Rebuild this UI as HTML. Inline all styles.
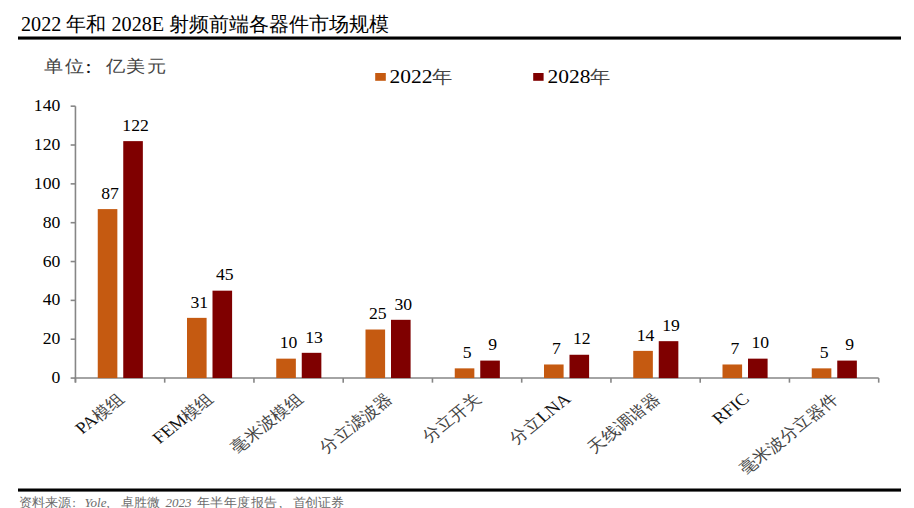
<!DOCTYPE html>
<html><head><meta charset="utf-8"><style>
html,body{margin:0;padding:0;background:#fff;}
body{width:914px;height:508px;position:relative;overflow:hidden;font-family:"Liberation Serif",serif;}
.abs{position:absolute;white-space:nowrap;}
#title{left:21px;top:11.5px;font-size:20.2px;line-height:24px;color:#000;}
.rule{position:absolute;left:18px;width:883px;height:3px;background:#000;}
.ft text{font-size:13px;fill:#6b6b6b;}
svg{position:absolute;left:0;top:0;}
.n{font-size:15.65px;fill:#000;}
.c{font-size:15.7px;fill:#444;}
.lat{font-size:16.6px;fill:#111;}
.u{font-size:16.6px;fill:#444;letter-spacing:1.45px;}
.g{font-size:19px;fill:#000;}
.uc{font-size:19px;fill:#111;}
.gy{font-size:17.5px;fill:#444;}
text{font-family:"Liberation Serif",serif;}
</style></head><body>
<div id="title" class="abs">2022 年和 2028E 射频前端各器件市场规模</div>
<svg width="914" height="508" viewBox="0 0 914 508">
<line x1="75.45" y1="106.17" x2="75.45" y2="382.57" stroke="#868686" stroke-width="1.6"/>
<line x1="74.65" y1="378.07" x2="878.70" y2="378.07" stroke="#868686" stroke-width="1.6"/>
<line x1="70.65" y1="378.07" x2="75.45" y2="378.07" stroke="#868686" stroke-width="1.6"/>
<text transform="translate(60.30,383.17) scale(1.13,1)" text-anchor="end" class="n">0</text>
<line x1="70.65" y1="339.23" x2="75.45" y2="339.23" stroke="#868686" stroke-width="1.6"/>
<text transform="translate(60.30,344.33) scale(1.13,1)" text-anchor="end" class="n">20</text>
<line x1="70.65" y1="300.38" x2="75.45" y2="300.38" stroke="#868686" stroke-width="1.6"/>
<text transform="translate(60.30,305.48) scale(1.13,1)" text-anchor="end" class="n">40</text>
<line x1="70.65" y1="261.54" x2="75.45" y2="261.54" stroke="#868686" stroke-width="1.6"/>
<text transform="translate(60.30,266.64) scale(1.13,1)" text-anchor="end" class="n">60</text>
<line x1="70.65" y1="222.70" x2="75.45" y2="222.70" stroke="#868686" stroke-width="1.6"/>
<text transform="translate(60.30,227.80) scale(1.13,1)" text-anchor="end" class="n">80</text>
<line x1="70.65" y1="183.86" x2="75.45" y2="183.86" stroke="#868686" stroke-width="1.6"/>
<text transform="translate(60.30,188.96) scale(1.13,1)" text-anchor="end" class="n">100</text>
<line x1="70.65" y1="145.01" x2="75.45" y2="145.01" stroke="#868686" stroke-width="1.6"/>
<text transform="translate(60.30,150.11) scale(1.13,1)" text-anchor="end" class="n">120</text>
<line x1="70.65" y1="106.17" x2="75.45" y2="106.17" stroke="#868686" stroke-width="1.6"/>
<text transform="translate(60.30,111.27) scale(1.13,1)" text-anchor="end" class="n">140</text>
<line x1="75.45" y1="378.07" x2="75.45" y2="382.67" stroke="#868686" stroke-width="1.6"/>
<line x1="164.70" y1="378.07" x2="164.70" y2="382.67" stroke="#868686" stroke-width="1.6"/>
<line x1="253.95" y1="378.07" x2="253.95" y2="382.67" stroke="#868686" stroke-width="1.6"/>
<line x1="343.20" y1="378.07" x2="343.20" y2="382.67" stroke="#868686" stroke-width="1.6"/>
<line x1="432.45" y1="378.07" x2="432.45" y2="382.67" stroke="#868686" stroke-width="1.6"/>
<line x1="521.70" y1="378.07" x2="521.70" y2="382.67" stroke="#868686" stroke-width="1.6"/>
<line x1="610.95" y1="378.07" x2="610.95" y2="382.67" stroke="#868686" stroke-width="1.6"/>
<line x1="700.20" y1="378.07" x2="700.20" y2="382.67" stroke="#868686" stroke-width="1.6"/>
<line x1="789.45" y1="378.07" x2="789.45" y2="382.67" stroke="#868686" stroke-width="1.6"/>
<line x1="878.70" y1="378.07" x2="878.70" y2="382.67" stroke="#868686" stroke-width="1.6"/>
<rect x="97.75" y="209.10" width="19.6" height="168.97" fill="#C55A11"/>
<text transform="translate(110.05,198.80) scale(1.13,1)" text-anchor="middle" class="n">87</text>
<rect x="123.25" y="141.13" width="19.6" height="236.94" fill="#7F0000"/>
<text transform="translate(135.55,130.83) scale(1.13,1)" text-anchor="middle" class="n">122</text>
<text transform="translate(125.58,400.37) scale(1.13,1) rotate(-42)" text-anchor="end" class="c"><tspan class="lat">PA</tspan>模组</text>
<rect x="187.00" y="317.86" width="19.6" height="60.21" fill="#C55A11"/>
<text transform="translate(199.30,307.56) scale(1.13,1)" text-anchor="middle" class="n">31</text>
<rect x="212.50" y="290.67" width="19.6" height="87.40" fill="#7F0000"/>
<text transform="translate(224.80,280.37) scale(1.13,1)" text-anchor="middle" class="n">45</text>
<text transform="translate(214.82,400.37) scale(1.13,1) rotate(-42)" text-anchor="end" class="c"><tspan class="lat">FEM</tspan>模组</text>
<rect x="276.25" y="358.65" width="19.6" height="19.42" fill="#C55A11"/>
<text transform="translate(288.55,348.35) scale(1.13,1)" text-anchor="middle" class="n">10</text>
<rect x="301.75" y="352.82" width="19.6" height="25.25" fill="#7F0000"/>
<text transform="translate(314.05,342.52) scale(1.13,1)" text-anchor="middle" class="n">13</text>
<text transform="translate(304.07,400.37) scale(1.13,1) rotate(-42)" text-anchor="end" class="c">毫米波模组</text>
<rect x="365.50" y="329.52" width="19.6" height="48.55" fill="#C55A11"/>
<text transform="translate(377.80,319.22) scale(1.13,1)" text-anchor="middle" class="n">25</text>
<rect x="391.00" y="319.81" width="19.6" height="58.26" fill="#7F0000"/>
<text transform="translate(403.30,309.51) scale(1.13,1)" text-anchor="middle" class="n">30</text>
<text transform="translate(393.32,400.37) scale(1.13,1) rotate(-42)" text-anchor="end" class="c">分立滤波器</text>
<rect x="454.75" y="368.36" width="19.6" height="9.71" fill="#C55A11"/>
<text transform="translate(467.05,358.06) scale(1.13,1)" text-anchor="middle" class="n">5</text>
<rect x="480.25" y="360.59" width="19.6" height="17.48" fill="#7F0000"/>
<text transform="translate(492.55,350.29) scale(1.13,1)" text-anchor="middle" class="n">9</text>
<text transform="translate(482.57,400.37) scale(1.13,1) rotate(-42)" text-anchor="end" class="c">分立开关</text>
<rect x="544.00" y="364.48" width="19.6" height="13.59" fill="#C55A11"/>
<text transform="translate(556.30,354.18) scale(1.13,1)" text-anchor="middle" class="n">7</text>
<rect x="569.50" y="354.76" width="19.6" height="23.31" fill="#7F0000"/>
<text transform="translate(581.80,344.46) scale(1.13,1)" text-anchor="middle" class="n">12</text>
<text transform="translate(571.83,400.37) scale(1.13,1) rotate(-42)" text-anchor="end" class="c">分立<tspan class="lat">LNA</tspan></text>
<rect x="633.25" y="350.88" width="19.6" height="27.19" fill="#C55A11"/>
<text transform="translate(645.55,340.58) scale(1.13,1)" text-anchor="middle" class="n">14</text>
<rect x="658.75" y="341.17" width="19.6" height="36.90" fill="#7F0000"/>
<text transform="translate(671.05,330.87) scale(1.13,1)" text-anchor="middle" class="n">19</text>
<text transform="translate(661.08,400.37) scale(1.13,1) rotate(-42)" text-anchor="end" class="c">天线调谐器</text>
<rect x="722.50" y="364.48" width="19.6" height="13.59" fill="#C55A11"/>
<text transform="translate(734.80,354.18) scale(1.13,1)" text-anchor="middle" class="n">7</text>
<rect x="748.00" y="358.65" width="19.6" height="19.42" fill="#7F0000"/>
<text transform="translate(760.30,348.35) scale(1.13,1)" text-anchor="middle" class="n">10</text>
<text transform="translate(750.33,400.37) scale(1.13,1) rotate(-42)" text-anchor="end" class="c"><tspan class="lat">RFIC</tspan></text>
<rect x="811.75" y="368.36" width="19.6" height="9.71" fill="#C55A11"/>
<text transform="translate(824.05,358.06) scale(1.13,1)" text-anchor="middle" class="n">5</text>
<rect x="837.25" y="360.59" width="19.6" height="17.48" fill="#7F0000"/>
<text transform="translate(849.55,350.29) scale(1.13,1)" text-anchor="middle" class="n">9</text>
<text transform="translate(839.58,400.37) scale(1.13,1) rotate(-42)" text-anchor="end" class="c">毫米波分立器件</text>
<text transform="translate(44.30,71.90) scale(1.13,1)" text-anchor="start" class="u">单位</text>
<text transform="translate(85.60,72.60) scale(1.13,1)" text-anchor="start" class="uc">:</text>
<text transform="translate(105.50,71.90) scale(1.13,1)" text-anchor="start" class="u">亿美元</text>
<rect x="375.2" y="73" width="10.6" height="7.8" fill="#C55A11"/>
<text transform="translate(389.50,82.50) scale(1.13,1)" text-anchor="start" class="g">2022<tspan class="gy">年</tspan></text>
<rect x="533.2" y="73" width="10.4" height="7.8" fill="#7F0000"/>
<text transform="translate(547.50,82.50) scale(1.13,1)" text-anchor="start" class="g">2028<tspan class="gy">年</tspan></text>
<rect x="18" y="36.5" width="883" height="3.1" fill="#000"/>
<rect x="18" y="488.5" width="883" height="3.1" fill="#000"/>
</svg>
<svg width="914" height="508" viewBox="0 0 914 508" class="ft"><text x="19.30 32.20 45.10 58.00" y="506.5">资料来源</text><text x="72.30" y="506.5">:</text><text x="84.50" y="506.5" font-style="italic">Yole</text><text x="106.50" y="506.5">,</text><text x="120.80 133.70 146.60" y="506.5">卓胜微</text><text x="165.50" y="506.5" font-style="italic">2023</text><text x="196.90 210.40 223.90 237.40 250.90 264.40" y="506.5">年半年度报告</text><text x="278.90" y="506.5">,</text><text x="292.70 305.30 317.90 330.50" y="506.5">首创证券</text></svg>
</body></html>
